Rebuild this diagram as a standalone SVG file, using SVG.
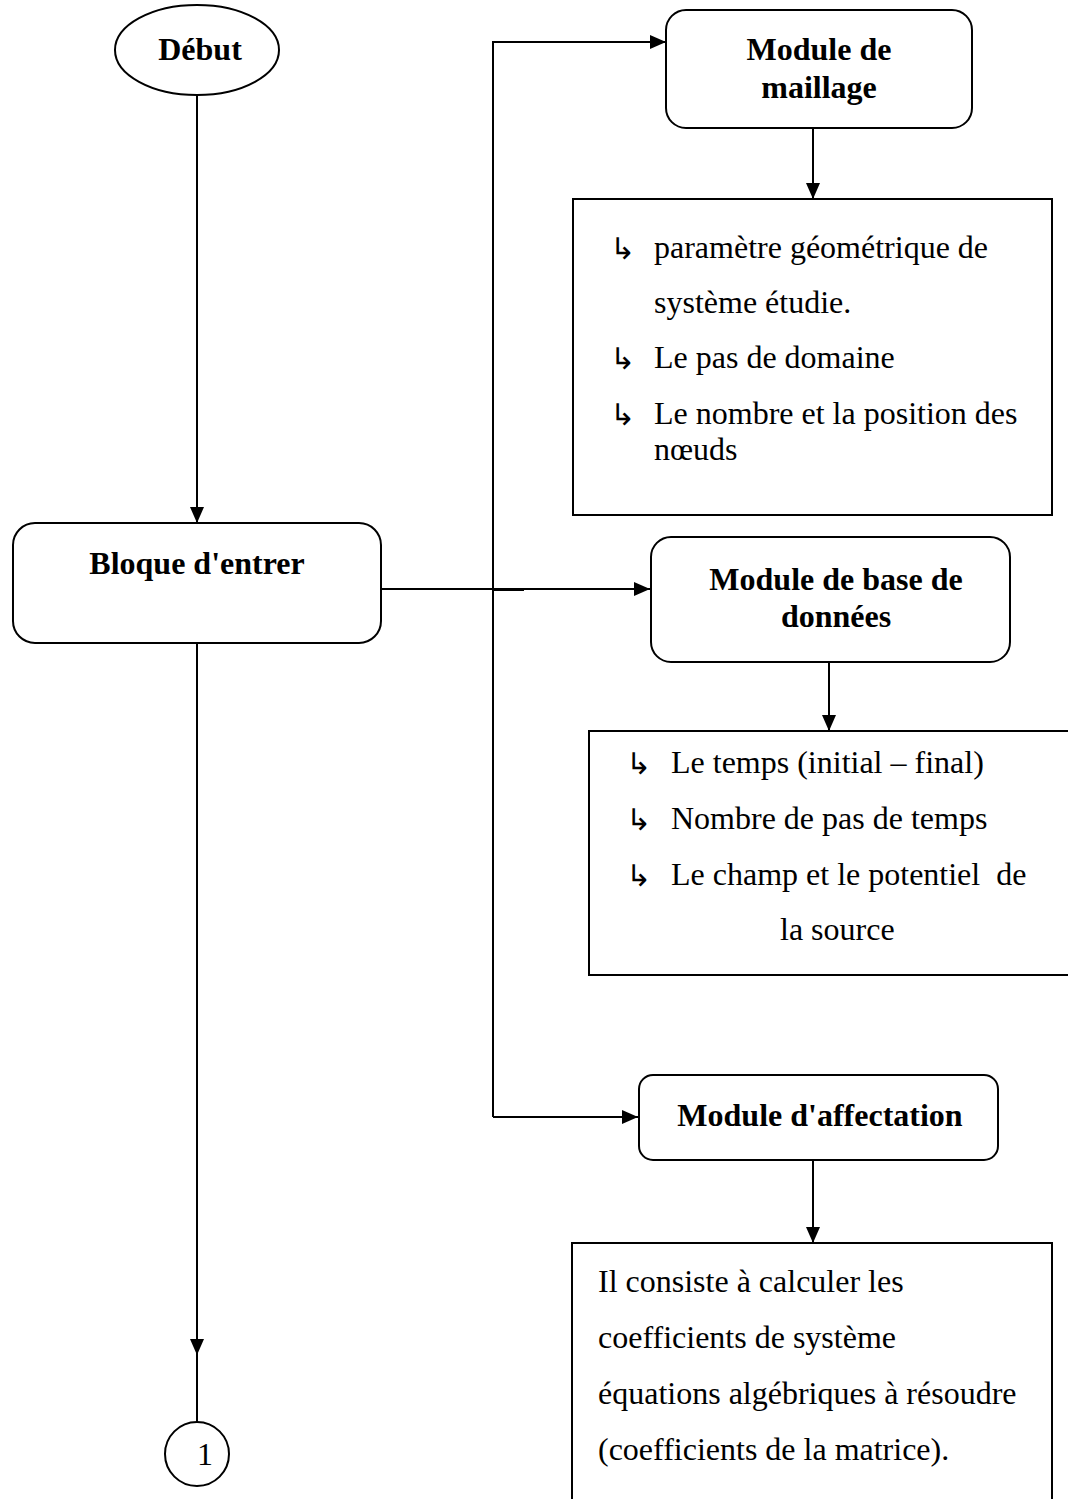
<svg xmlns="http://www.w3.org/2000/svg" width="1068" height="1499" viewBox="0 0 1068 1499">
<style>
.box{fill:#fff;stroke:#000;stroke-width:2}
.ln{fill:none;stroke:#000;stroke-width:2}
.t{font-family:"Liberation Serif","Times New Roman",serif;font-size:32px;fill:#000}
.b{font-family:"Liberation Serif","Times New Roman",serif;font-size:32px;font-weight:bold;fill:#000}
.bul{font-family:"DejaVu Sans",sans-serif;font-size:30px;fill:#000}
</style>
<defs>
<marker id="ah2" markerWidth="16" markerHeight="14" refX="16" refY="7" orient="auto" markerUnits="userSpaceOnUse" viewBox="0 0 16 14">
<path d="M0,0 L16,7 L0,14 z" fill="#000"/>
</marker>
</defs>
<rect width="1068" height="1499" fill="#fff"/>
<g id="connectors">
<line class="ln" x1="197" y1="95" x2="197" y2="523" marker-end="url(#ah2)"/>
<line class="ln" x1="197" y1="643" x2="197" y2="1355" marker-end="url(#ah2)"/>
<line class="ln" x1="197" y1="1355" x2="197" y2="1422"/>
<line class="ln" x1="381" y1="589" x2="650" y2="589" marker-end="url(#ah2)"/>
<line x1="493" y1="590" x2="524" y2="590" stroke="#000" stroke-width="2"/>
<polyline class="ln" points="493,1117 493,42 666,42" marker-end="url(#ah2)"/>
<line class="ln" x1="493" y1="1117" x2="638" y2="1117" marker-end="url(#ah2)"/>
<line class="ln" x1="813" y1="128" x2="813" y2="199" marker-end="url(#ah2)"/>
<line class="ln" x1="829" y1="662" x2="829" y2="731" marker-end="url(#ah2)"/>
<line class="ln" x1="813" y1="1160" x2="813" y2="1243" marker-end="url(#ah2)"/>
</g>
<g id="debut">
<ellipse class="box" cx="197" cy="50" rx="82" ry="45"/>
<text class="b" x="200" y="60" text-anchor="middle">Début</text>
</g>
<g id="bloque">
<rect class="box" x="13" y="523" width="368" height="120" rx="22"/>
<text class="b" x="197" y="574" text-anchor="middle">Bloque d'entrer</text>
</g>
<g id="connector1">
<circle class="box" cx="197" cy="1454" r="32"/>
<text class="t" x="205" y="1465" text-anchor="middle">1</text>
</g>
<g id="maillage">
<rect class="box" x="666" y="10" width="306" height="118" rx="20"/>
<text class="b" x="819" y="60" text-anchor="middle">Module de</text>
<text class="b" x="819" y="98" text-anchor="middle">maillage</text>
</g>
<g id="maillage-details">
<rect class="box" x="573" y="199" width="479" height="316"/>
<text class="bul" x="610" y="259">↳</text>
<text class="t" x="654" y="258">paramètre géométrique de</text>
<text class="t" x="654" y="313">système étudie.</text>
<text class="bul" x="610" y="369">↳</text>
<text class="t" x="654" y="368">Le pas de domaine</text>
<text class="bul" x="610" y="425">↳</text>
<text class="t" x="654" y="424">Le nombre et la position des</text>
<text class="t" x="654" y="460">nœuds</text>
</g>
<g id="base">
<rect class="box" x="651" y="537" width="359" height="125" rx="20"/>
<text class="b" x="836" y="590" text-anchor="middle">Module de base de</text>
<text class="b" x="836" y="627" text-anchor="middle">données</text>
</g>
<g id="base-details">
<rect class="box" x="589" y="731" width="490" height="244"/>
<text class="bul" x="626" y="774">↳</text>
<text class="t" x="671" y="773">Le temps (initial – final)</text>
<text class="bul" x="626" y="830">↳</text>
<text class="t" x="671" y="829">Nombre de pas de temps</text>
<text class="bul" x="626" y="886">↳</text>
<text class="t" x="671" y="885" xml:space="preserve">Le champ et le potentiel  de</text>
<text class="t" x="780" y="940">la source</text>
</g>
<g id="affectation">
<rect class="box" x="639" y="1075" width="359" height="85" rx="14"/>
<text class="b" x="820" y="1126" text-anchor="middle">Module d'affectation</text>
</g>
<g id="affectation-details">
<rect class="box" x="572" y="1243" width="480" height="270"/>
<text class="t" x="598" y="1292">Il consiste à calculer les</text>
<text class="t" x="598" y="1348">coefficients de système</text>
<text class="t" x="598" y="1404">équations algébriques à résoudre</text>
<text class="t" x="598" y="1460">(coefficients de la matrice).</text>
</g>
</svg>
